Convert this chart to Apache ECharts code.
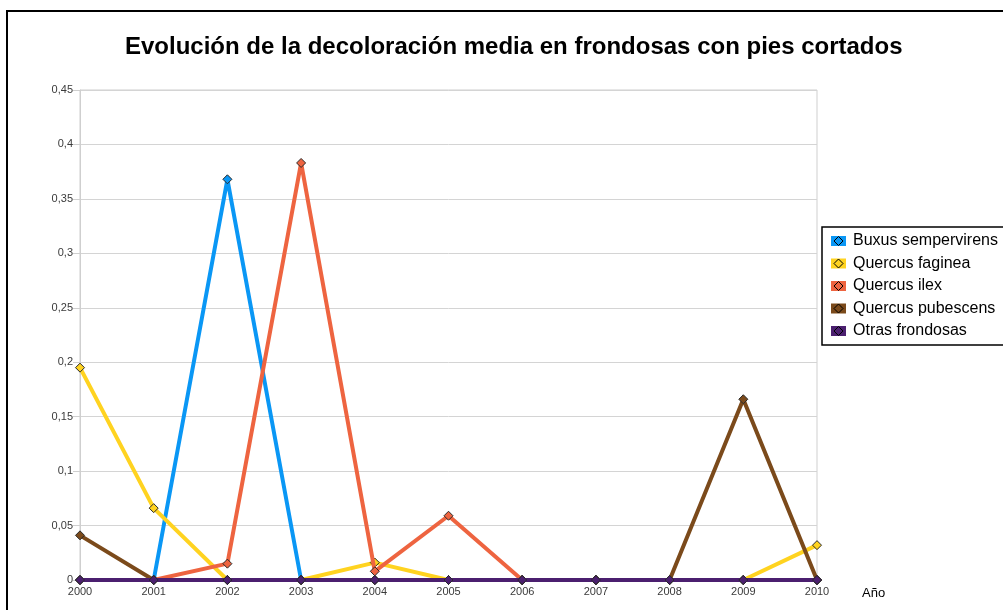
<!DOCTYPE html>
<html>
<head>
<meta charset="utf-8">
<title>Evolución de la decoloración media en frondosas con pies cortados</title>
<script src="https://cdn.jsdelivr.net/npm/echarts@6/dist/echarts.min.js"></script>
<style>
  html, body { margin: 0; padding: 0; background: #ffffff; }
  #chart { width: 1003px; height: 610px; }
</style>
</head>
<body>
<div id="chart"></div>
<script>
// Años de muestreo
var years = ['2000', '2001', '2002', '2003', '2004', '2005', '2006', '2007', '2008', '2009', '2010'];

// Decoloración media por especie
var buxusSempervirens = [0, 0, 0.368, 0, 0, 0, 0, 0, 0, 0, 0];
var quercusFaginea    = [0.195, 0.066, 0, 0, 0.016, 0, 0, 0, 0, 0, 0.032];
var quercusIlex       = [0, 0, 0.015, 0.383, 0.008, 0.059, 0, 0, 0, 0, 0];
var quercusPubescens  = [0.041, 0, 0, 0, 0, 0, 0, 0, 0, 0.166, 0];
var otrasFrondosas    = [0, 0, 0, 0, 0, 0, 0, 0, 0, 0, 0];

var seriesNames  = ['Buxus sempervirens', 'Quercus faginea', 'Quercus ilex', 'Quercus pubescens', 'Otras frondosas'];
var seriesData   = [buxusSempervirens, quercusFaginea, quercusIlex, quercusPubescens, otrasFrondosas];
var seriesColors = ['#0a97f5', '#ffd320', '#ee6440', '#7b4a1b', '#4b1f6f'];

var FONT = "'Liberation Sans', Arial, sans-serif";

var series = seriesNames.map(function (name, i) {
  return {
    name: name,
    type: 'line',
    data: seriesData[i],
    symbol: 'diamond',
    symbolSize: 9,
    showAllSymbol: true,
    z: 2 + i,
    lineStyle: { color: seriesColors[i], width: 4 },
    itemStyle: { color: seriesColors[i], borderColor: '#2a2a2a', borderWidth: 1 },
    emphasis: { disabled: true },
    animation: false
  };
});

// Legend frame (runs past the right edge) and key diamonds over the coloured key boxes
var legendLeft = 822, legendTop = 227, legendPadTop = 5, legendRow = 18, legendGap = 4.5;
var legendHeight = legendPadTop * 2 + seriesNames.length * legendRow + (seriesNames.length - 1) * legendGap;
var legendFrame = {
  type: 'rect',
  z: 50,
  shape: { x: legendLeft, y: legendTop, width: 400, height: legendHeight },
  style: { fill: '#fff', stroke: '#000', lineWidth: 1.5 }
};
var keyGraphics = seriesColors.map(function (c, i) {
  var cx = legendLeft + 9 + 7.5;
  var cy = legendTop + legendPadTop + legendRow / 2 + i * (legendRow + legendGap);
  return {
    type: 'polygon',
    z: 100,
    shape: { points: [[cx, cy - 4.5], [cx + 4.5, cy], [cx, cy + 4.5], [cx - 4.5, cy]] },
    style: { fill: c, stroke: '#000', lineWidth: 1 }
  };
});

var chart = echarts.init(document.getElementById('chart'), null, { renderer: 'canvas' });
chart.setOption({
  backgroundColor: '#ffffff',
  animation: false,
  title: {
    text: 'Evolución de la decoloración media en frondosas con pies cortados',
    left: 120,
    top: 30,
    textStyle: { fontFamily: FONT, fontSize: 24, fontWeight: 'bold', color: '#000' }
  },
  legend: {
    orient: 'vertical',
    left: legendLeft,
    top: legendTop,
    z: 60,
    padding: [legendPadTop, 0, 5, 9],
    itemGap: legendGap,
    itemWidth: 15,
    itemHeight: 10,
    icon: 'rect',
    borderWidth: 0,
    selectedMode: false,
    textStyle: { fontFamily: FONT, fontSize: 16, color: '#000', lineHeight: legendRow, padding: [0, 0, 0, 2] },
    itemStyle: { borderWidth: 0 },
    data: seriesNames
  },
  grid: {
    left: 80,
    right: 186,
    top: 90,
    bottom: 30,
    show: true,
    borderColor: '#cfcfcf',
    borderWidth: 1,
    backgroundColor: 'transparent'
  },
  xAxis: {
    type: 'category',
    data: years,
    boundaryGap: false,
    name: 'Año',
    nameLocation: 'end',
    nameGap: 45,
    nameTextStyle: { fontFamily: FONT, fontSize: 13, color: '#000', align: 'left', verticalAlign: 'top', lineHeight: 26 },
    axisLine: { lineStyle: { color: '#cfcfcf' } },
    axisTick: { show: false },
    axisLabel: { fontFamily: FONT, fontSize: 11, color: '#3a3a3a', margin: 6 },
    splitLine: { show: false }
  },
  yAxis: {
    type: 'value',
    min: 0,
    max: 0.45,
    interval: 0.05,
    axisLine: { show: true, lineStyle: { color: '#cfcfcf' } },
    axisTick: { show: true, length: 7, lineStyle: { color: '#cfcfcf' } },
    axisLabel: {
      fontFamily: FONT,
      fontSize: 11,
      color: '#3a3a3a',
      margin: 7,
      formatter: function (v) { return String(+v.toFixed(2)).replace('.', ','); }
    },
    splitLine: { lineStyle: { color: '#d4d4d4', width: 1 } }
  },
  graphic: [
    {
      type: 'rect',
      z: 0,
      shape: { x: 7, y: 11, width: 1100, height: 700 },
      style: { fill: 'none', stroke: '#000', lineWidth: 2 }
    },
    legendFrame
  ].concat(keyGraphics),
  series: series
});
</script>
</body>
</html>
